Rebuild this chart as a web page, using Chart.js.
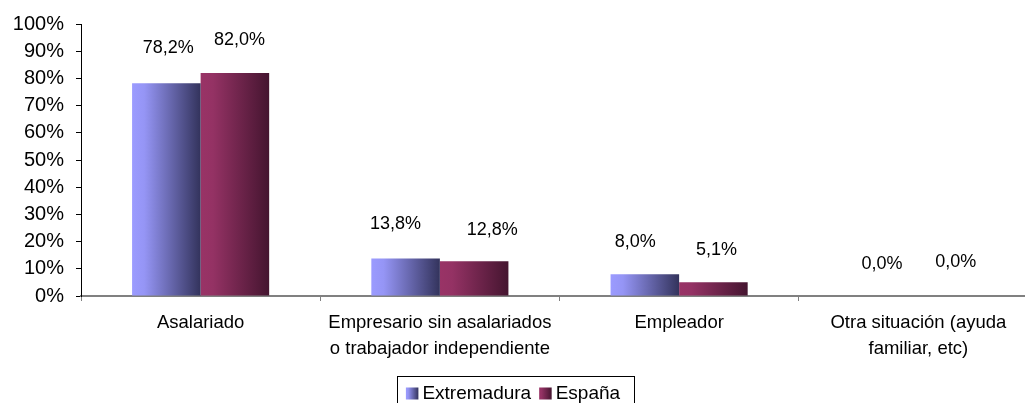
<!DOCTYPE html>
<html>
<head>
<meta charset="utf-8">
<script src="https://cdn.jsdelivr.net/npm/chart.js@4.4.1/dist/chart.umd.min.js"></script>
<style>
  html, body { margin: 0; padding: 0; background: #fff; overflow: hidden; width: 1025px; height: 403px; }
  canvas { display: block; }
</style>
</head>
<body>
<canvas id="chart" width="1040" height="413"></canvas>
<script>
// Situación profesional de los ocupados: Extremadura frente a España (%)
const categories = [
  ['Asalariado'],
  ['Empresario sin asalariados', 'o trabajador independiente'],
  ['Empleador'],
  ['Otra situación (ayuda', 'familiar, etc)']
];
const extremadura = [78.2, 13.8, 8.0, 0.0];
const espana = [82.0, 12.8, 5.1, 0.0];
const yTicks = [0, 10, 20, 30, 40, 50, 60, 70, 80, 90, 100];

const FONT = '"Liberation Sans", Arial, Helvetica, sans-serif';
Chart.defaults.font.family = FONT;
Chart.defaults.color = '#000';

// horizontal shading of each series (light left edge, dark right edge)
const EXT_STOPS = [[0, '#9b9bff'], [0.18, '#9595f5'], [1, '#33335c']];
const ESP_STOPS = [[0, '#993366'], [0.18, '#943264'], [1, '#451530']];
const CAT_PCT = 0.573;

function hGradient(ctx, left, width, stops) {
  const g = ctx.createLinearGradient(left, 0, left + width, 0);
  stops.forEach(([o, c]) => g.addColorStop(o, c));
  return g;
}

function barFill(stops) {
  return (c) => {
    const chart = c.chart;
    const xs = chart.scales && chart.scales.x;
    if (!xs || !chart.chartArea || c.dataIndex === undefined) return stops[1][1];
    const catW = xs.width / chart.data.labels.length;
    const groupW = catW * CAT_PCT;
    const barW = groupW / chart.data.datasets.length;
    const left = xs.getPixelForValue(c.dataIndex) - groupW / 2 + c.datasetIndex * barW;
    return hGradient(chart.ctx, left, barW, stops);
  };
}

const fmt = (v) => v.toFixed(1).replace('.', ',') + '%';

// value captions above each bar
const valueLabels = {
  id: 'valueLabels',
  afterDatasetsDraw(chart, args, opts) {
    const { ctx } = chart;
    ctx.save();
    ctx.font = opts.size + 'px ' + FONT;
    ctx.fillStyle = '#000';
    ctx.textAlign = 'center';
    ctx.textBaseline = 'middle';
    chart.data.datasets.forEach((ds, di) => {
      chart.getDatasetMeta(di).data.forEach((bar, i) => {
        const [dx, dy] = opts.nudge[di][i];
        ctx.fillText(fmt(ds.data[i]), bar.x + dx, bar.y - opts.lift + dy);
      });
    });
    ctx.restore();
  }
};

// legend frame and shaded legend swatches
const legendFrame = {
  id: 'legendFrame',
  afterLayout(chart, args, opts) {
    const lg = chart.legend;
    lg.left += opts.shift;
    lg.right += opts.shift;
  },
  afterDraw(chart, args, opts) {
    const lg = chart.legend;
    const boxes = lg.legendHitBoxes;
    if (!boxes || !boxes.length) return;
    const { ctx } = chart;
    ctx.save();
    const stops = [EXT_STOPS, ESP_STOPS];
    boxes.forEach((h, i) => {
      const y = h.top + (h.height - 12) / 2;
      ctx.fillStyle = hGradient(ctx, h.left, 12.5, stops[i]);
      ctx.fillRect(h.left, y, 12.5, 12);
    });
    const x0 = Math.round(boxes[0].left - opts.padLeft);
    const last = boxes[boxes.length - 1];
    const x1 = Math.round(last.left + last.width + opts.padRight);
    ctx.strokeStyle = '#000';
    ctx.lineWidth = 1;
    ctx.strokeRect(x0 + 0.5, Math.round(lg.top) + 0.5, x1 - x0, 60);
    ctx.restore();
  }
};

new Chart(document.getElementById('chart'), {
  type: 'bar',
  data: {
    labels: categories,
    datasets: [
      { label: 'Extremadura', data: extremadura, backgroundColor: barFill(EXT_STOPS) },
      { label: 'España', data: espana, backgroundColor: barFill(ESP_STOPS) }
    ]
  },
  options: {
    responsive: false,
    animation: false,
    devicePixelRatio: 1,
    layout: { padding: { top: 24, right: 2, left: 0, bottom: 0 } },
    datasets: { bar: { categoryPercentage: CAT_PCT, barPercentage: 1, borderWidth: 0 } },
    scales: {
      x: {
        grid: { offset: true, drawOnChartArea: false, drawTicks: true, tickLength: 5, color: '#808080', lineWidth: 1 },
        border: { color: '#808080', width: 2 },
        ticks: { font: { size: 18.5, lineHeight: 1.4 }, color: '#000', padding: 9, maxRotation: 0, autoSkip: false },
        afterFit: (s) => { s.height = 80; }
      },
      y: {
        min: 0,
        max: 100,
        afterBuildTicks: (s) => { s.ticks = yTicks.map((v) => ({ value: v })); },
        ticks: { callback: (v) => v + '%', font: { size: 20 }, color: '#000', padding: 12 },
        grid: { drawOnChartArea: false, drawTicks: true, tickLength: 5, color: '#000', lineWidth: 1 },
        border: { color: '#000', width: 1 },
        afterFit: (s) => { s.width = 81; }
      }
    },
    plugins: {
      tooltip: { enabled: false },
      legend: {
        position: 'bottom',
        labels: {
          font: { size: 19 },
          color: '#000',
          boxWidth: 7,
          boxHeight: 12,
          padding: 8,
          generateLabels: (chart) => Chart.defaults.plugins.legend.labels.generateLabels(chart).map((l) => ({
            ...l, fillStyle: 'rgba(0,0,0,0)', strokeStyle: 'rgba(0,0,0,0)', lineWidth: 0
          }))
        }
      },
      valueLabels: {
        size: 18,
        lift: 32,
        nudge: [
          [[2, -3], [-10, -2.5], [-9.5, 0], [-2, 0]],
          [[4.5, -1], [18, 1], [3, 0], [3, -2]]
        ]
      },
      legendFrame: { shift: -6, padLeft: 9, padRight: 14 }
    }
  },
  plugins: [valueLabels, legendFrame]
});
</script>
</body>
</html>
